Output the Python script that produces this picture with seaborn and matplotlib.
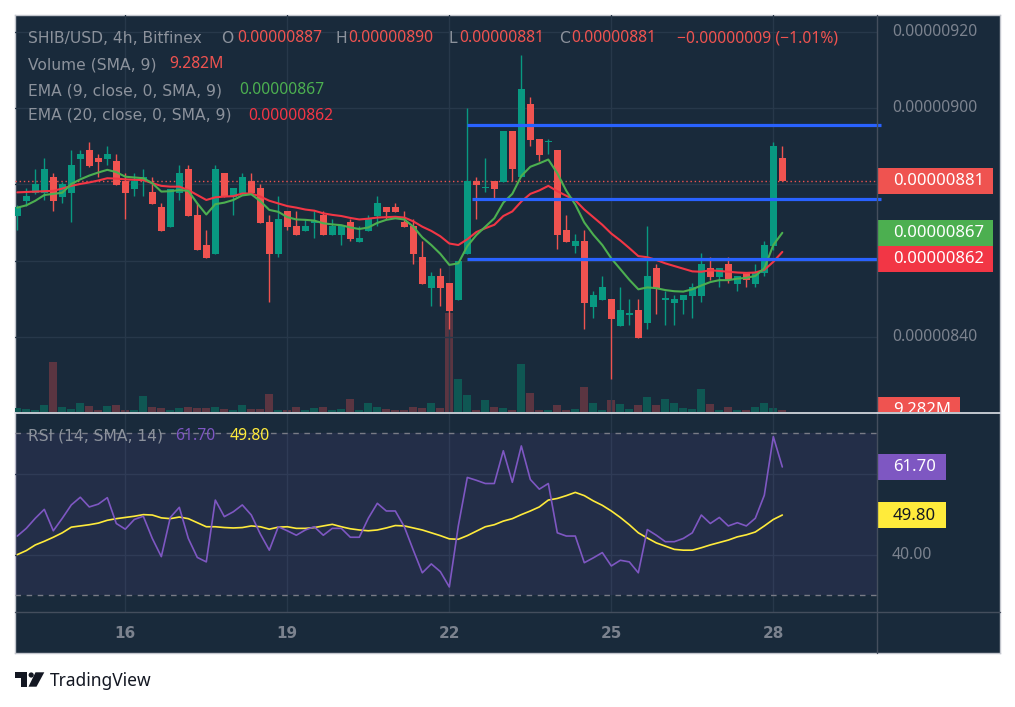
import numpy as np
import pandas as pd
import matplotlib
matplotlib.use("Agg")
import matplotlib.pyplot as plt
import seaborn as sns
from matplotlib.patches import Rectangle, Circle, Polygon

# ---------------- data (prices in units of 1e-8 USD, 4h candles) ----------------
first_day = 14              # first candle = day 14, 00:00
candles_per_day = 6
tick_days = [16, 19, 22, 25, 28]
tick_labels = ["16", "19", "22", "25", "28"]

open_ = [871.8, 875.7, 877.8, 877.8, 881.9, 876.8, 877.8, 886.7, 889.0, 886.9,
         886.7, 886.1, 880.9, 878.9, 880.9, 878.0, 874.1, 868.9, 877.8, 884.0,
         872.0, 864.1, 861.8, 883.0, 876.8, 877.8, 880.9, 879.0, 870.1, 861.8,
         873.0, 869.1, 867.9, 870.0, 872.0, 866.8, 866.8, 870.1, 865.0, 867.9,
         871.8, 874.1, 874.1, 870.1, 869.1, 861.0, 852.9, 856.0, 854.2, 849.8,
         861.8, 880.9, 879.0, 880.9, 880.7, 894.0, 881.8, 901.1, 891.9, 891.0,
         889.0, 868.0, 863.8, 865.2, 847.9, 849.8, 850.0, 842.9, 845.9, 847.0,
         843.8, 858.1, 849.8, 849.0, 849.8, 850.8, 850.8, 858.1, 855.8, 859.1,
         854.0, 857.0, 854.0, 856.9, 863.9, 887.0]
high = [874.5, 879.0, 884.0, 886.9, 883.0, 880.7, 889.0, 889.0, 891.1, 888.0,
        890.0, 888.0, 882.9, 882.9, 883.9, 881.9, 875.1, 878.9, 885.1, 885.1,
        875.1, 868.0, 885.1, 883.0, 879.0, 883.0, 883.0, 880.1, 872.0, 877.0,
        873.0, 873.0, 870.9, 873.0, 873.0, 870.9, 869.1, 870.9, 869.1, 872.0,
        877.0, 874.1, 875.1, 873.0, 870.9, 865.2, 857.0, 858.1, 854.2, 859.9,
        899.9, 881.9, 886.8, 880.9, 894.0, 894.0, 913.9, 902.9, 891.9, 891.8,
        889.0, 872.0, 867.0, 868.0, 852.1, 856.0, 850.0, 853.1, 850.0, 850.0,
        869.1, 859.1, 852.1, 851.0, 851.0, 854.1, 862.0, 861.0, 858.1, 861.0,
        856.0, 857.0, 859.1, 865.2, 891.1, 890.0]
low = [868.0, 874.3, 877.5, 875.9, 873.1, 875.2, 870.2, 882.0, 884.6, 882.0,
       885.1, 879.7, 871.0, 877.0, 877.0, 874.9, 867.9, 868.9, 875.9, 871.8,
       862.9, 860.8, 861.8, 876.8, 872.0, 877.2, 877.8, 870.0, 849.3, 861.0,
       868.0, 866.8, 867.9, 866.0, 866.8, 866.8, 864.2, 865.2, 865.0, 867.9,
       869.1, 870.9, 872.8, 868.9, 859.2, 854.0, 848.2, 848.2, 842.2, 849.8,
       861.8, 871.0, 878.1, 876.0, 880.7, 880.9, 881.8, 890.1, 886.1, 888.0,
       863.1, 864.9, 862.1, 842.2, 845.0, 849.8, 829.1, 842.9, 843.1, 839.8,
       842.2, 846.1, 843.2, 843.2, 846.1, 845.1, 849.3, 855.0, 853.1, 854.2,
       852.1, 853.1, 853.1, 856.0, 862.8, 881.0]
close = [874.1, 877.0, 880.0, 884.0, 875.7, 880.0, 885.1, 888.0, 884.9, 885.9,
         888.0, 879.9, 877.8, 880.9, 881.9, 874.9, 867.9, 878.9, 883.0, 871.8,
         862.9, 860.8, 884.0, 876.8, 879.0, 881.9, 877.8, 870.0, 861.8, 870.9,
         868.9, 866.8, 869.1, 870.1, 866.8, 869.1, 869.1, 865.8, 865.9, 870.9,
         875.1, 872.8, 872.8, 868.9, 861.8, 854.0, 856.0, 852.9, 846.9, 859.9,
         880.9, 879.8, 879.1, 878.8, 894.0, 883.9, 905.0, 891.6, 887.7, 891.2,
         866.8, 864.9, 865.2, 848.9, 851.0, 853.1, 844.8, 847.0, 846.1, 839.8,
         856.0, 852.9, 850.0, 850.0, 851.0, 853.1, 859.1, 855.8, 858.1, 854.9,
         856.0, 854.9, 857.0, 864.1, 890.0, 881.0]
volume_m = [18.6, 13.9, 9.3, 32.5, 232.1, 23.2, 13.9, 41.8, 27.8, 9.3,
            27.8, 32.5, 9.3, 9.3, 74.3, 23.2, 18.6, 9.3, 18.6, 23.2,
            18.6, 18.6, 23.2, 13.9, 9.3, 32.5, 13.9, 13.9, 83.5, 9.3,
            9.3, 23.2, 9.3, 18.6, 23.2, 9.3, 13.9, 60.3, 9.3, 41.8,
            23.2, 13.9, 9.3, 9.3, 23.2, 18.6, 41.8, 18.6, 459.5, 153.2,
            78.9, 9.3, 55.7, 23.2, 18.6, 9.3, 222.8, 88.2, 9.3, 9.3,
            32.5, 9.3, 13.9, 116.0, 41.8, 9.3, 55.7, 37.1, 13.9, 32.5,
            69.6, 32.5, 60.3, 41.8, 18.6, 13.9, 106.7, 37.1, 9.3, 23.2,
            9.3, 9.3, 23.2, 41.8, 18.6, 9.282]
ema9 = [873.9, 874.5, 875.7, 877.2, 877.5, 877.8, 880.1, 881.3, 882.3, 883.1,
        883.8, 883.2, 882.0, 881.8, 881.6, 880.3, 878.1, 878.2, 878.5, 878.3,
        875.0, 872.1, 874.8, 875.2, 875.9, 877.1, 877.4, 875.6, 873.3, 872.8,
        871.4, 870.8, 870.7, 870.5, 869.8, 869.5, 869.3, 868.7, 868.3, 868.7,
        869.9, 870.7, 871.1, 870.8, 868.9, 866.1, 864.1, 861.8, 858.9, 859.3,
        863.8, 866.7, 868.9, 871.1, 875.2, 877.5, 882.2, 884.6, 885.5, 886.5,
        882.9, 878.3, 874.7, 870.0, 866.8, 864.1, 860.6, 857.8, 855.0, 852.5,
        853.0, 852.8, 852.3, 852.0, 851.9, 852.5, 853.5, 854.4, 854.9, 854.9,
        855.3, 855.5, 856.0, 858.0, 864.1, 867.3]
ema20 = [877.9, 878.0, 878.1, 878.2, 878.3, 878.9, 879.6, 880.1, 880.5, 881.0,
         881.6, 881.5, 881.3, 881.2, 881.1, 880.3, 879.6, 879.4, 879.4, 878.5,
         877.2, 875.9, 876.6, 876.8, 876.9, 877.6, 877.6, 876.8, 875.7, 875.0,
         874.3, 873.9, 873.4, 873.1, 872.4, 872.0, 871.7, 871.2, 870.8, 871.0,
         871.3, 871.4, 871.5, 871.3, 870.3, 868.9, 867.8, 866.4, 864.5, 864.1,
         865.6, 867.5, 868.5, 869.4, 871.7, 872.9, 875.5, 877.5, 878.4, 879.6,
         878.2, 877.0, 875.8, 873.4, 871.4, 869.4, 867.1, 865.3, 863.3, 861.2,
         860.9, 860.2, 859.3, 858.6, 857.9, 857.2, 857.1, 857.5, 857.3, 857.1,
         856.9, 856.8, 856.9, 857.6, 859.7, 862.3]
rsi = [44.6, 46.5, 49.0, 51.2, 45.9, 49.0, 52.3, 54.2, 51.8, 52.5,
       54.1, 47.7, 46.3, 48.7, 49.5, 44.0, 39.5, 49.2, 51.7, 44.0,
       39.3, 38.2, 53.5, 49.4, 50.6, 52.3, 49.8, 45.1, 41.1, 46.9,
       45.9, 44.8, 46.1, 46.9, 44.8, 46.5, 46.5, 44.3, 44.3, 49.0,
       52.7, 50.8, 50.8, 46.9, 41.1, 35.5, 37.7, 35.8, 32.0, 47.1,
       59.1, 58.4, 57.6, 57.6, 65.7, 57.9, 66.9, 58.6, 56.2, 57.6,
       45.4, 44.6, 44.6, 38.0, 39.2, 40.5, 37.2, 38.6, 38.2, 35.5,
       46.2, 44.8, 43.2, 43.2, 44.0, 45.4, 49.8, 47.7, 49.2, 47.1,
       47.9, 47.1, 49.0, 54.7, 69.2, 61.7]
rsi_sma = [40.0, 41.0, 42.4, 43.3, 44.3, 45.4, 46.8, 47.1, 47.4, 47.8,
           48.5, 48.9, 49.2, 49.5, 49.9, 49.8, 49.1, 48.9, 49.3, 48.9,
           47.9, 46.9, 46.9, 46.7, 46.6, 46.7, 47.1, 46.9, 46.3, 46.8,
           46.9, 46.5, 46.5, 46.7, 47.1, 47.5, 46.9, 46.4, 46.1, 45.9,
           46.1, 46.6, 47.2, 47.1, 46.6, 46.1, 45.4, 44.7, 43.9, 43.8,
           44.7, 45.8, 46.9, 47.4, 48.3, 48.9, 49.9, 50.8, 51.8, 53.5,
           53.9, 54.6, 55.4, 54.6, 53.3, 52.2, 50.8, 49.2, 47.4, 45.4,
           44.1, 42.9, 42.1, 41.3, 41.1, 41.1, 41.7, 42.4, 43.0, 43.6,
           44.4, 44.9, 45.6, 47.1, 48.7, 49.8]
level_prices = [895.5, 876.1, 860.4]
level_start = [50.0, 50.5, 50.0]
price_grid = [840, 860, 880, 900, 920]
rsi_grid = [40, 60]

# ---------------- style ----------------
BG = "#192a3b"
GRID = "#27384a"
UP = "#089981"
DOWN = "#ef5350"
VUP = "#0f5753"
VDOWN = "#5b3541"
EMA9_C = "#4caf50"
EMA20_C = "#f23645"
BLUE = "#2962ff"
RSI_C = "#7e57c2"
SMA_C = "#ffeb3b"
AXIS_TXT = "#7b828e"
HDR = "#8c929c"
SEP = "#444e5d"

sns.set_theme(style="dark")
plt.rcParams["font.family"] = ["Noto Sans", "DejaVu Sans"]

W, H = 1015, 707
fig = plt.figure(figsize=(W / 100, H / 100), dpi=100)
fig.patch.set_facecolor("white")


def rect(x0, y0, x1, y1):
    return [x0 / W, 1 - y1 / H, (x1 - x0) / W, (y1 - y0) / H]


# background frame
bg = fig.add_axes(rect(15, 15, 1000, 653), zorder=0)
bg.set_facecolor(BG)
bg.set_xticks([]); bg.set_yticks([])
for s in bg.spines.values():
    s.set_color("#c3c6cd"); s.set_linewidth(1)

n = len(close)
idx = np.arange(n)
o = np.array(open_); c = np.array(close); hi = np.array(high); lo = np.array(low)
up = c >= o
XL = (-0.256, 95.52)
day_idx = [(d - first_day) * candles_per_day for d in tick_days]

# volume axes (behind candles)
axv = fig.add_axes(rect(15, 15, 877, 412), zorder=1)
axv.set_facecolor("none")
axv.bar(idx, volume_m, width=0.88, color=np.where(up, VUP, VDOWN), linewidth=0)
axv.set_xlim(*XL); axv.set_ylim(0, 1842)
axv.axis("off")

# price axes
ax = fig.add_axes(rect(15, 15, 877, 412), zorder=2)
ax.set_facecolor("none")
ax.set_xlim(*XL); ax.set_ylim(820.36, 924.36)
ax.set_yticks(price_grid); ax.set_xticks(day_idx)
ax.tick_params(length=0, labelleft=False, labelbottom=False)
ax.grid(True, color=GRID, lw=1)
for s in ax.spines.values():
    s.set_visible(False)

cols = np.where(up, UP, DOWN)
ax.vlines(idx, lo, hi, colors=cols, lw=1, zorder=3)
body_lo = np.minimum(o, c)
body_h = np.maximum(np.abs(c - o), 0.3)
ax.bar(idx, body_h, bottom=body_lo, width=0.76, color=cols, linewidth=0, zorder=4)

df = pd.DataFrame({"i": idx, "ema9": ema9, "ema20": ema20, "rsi": rsi, "sma": rsi_sma})
sns.lineplot(data=df, x="i", y="ema20", ax=ax, color=EMA20_C, lw=1.5, zorder=5)
sns.lineplot(data=df, x="i", y="ema9", ax=ax, color=EMA9_C, lw=1.5, zorder=5)
ax.set_xlabel(""); ax.set_ylabel("")

for lp, ls in zip(level_prices, level_start):
    ax.hlines(lp, ls, 96, color=BLUE, lw=2.3, zorder=6, clip_on=False)
ax.axhline(close[-1], color=DOWN, lw=1, ls=(0, (1, 2)), zorder=2)

# RSI axes
ar = fig.add_axes(rect(15, 413, 877, 612), zorder=2)
ar.set_facecolor("none")
ar.set_xlim(*XL); ar.set_ylim(25.8, 75.05)
ar.axhspan(30, 70, color=RSI_C, alpha=0.10, lw=0)
ar.set_yticks(rsi_grid); ar.set_xticks(day_idx)
ar.tick_params(length=0, labelleft=False, labelbottom=False)
ar.grid(True, color=GRID, lw=1)
for s in ar.spines.values():
    s.set_visible(False)
for lvl in (30, 70):
    ar.axhline(lvl, color="#787b86", lw=1, ls=(0, (4, 4)))
sns.lineplot(data=df, x="i", y="sma", ax=ar, color=SMA_C, lw=1.2)
sns.lineplot(data=df, x="i", y="rsi", ax=ar, color=RSI_C, lw=1.2)
ar.set_xlabel(""); ar.set_ylabel("")

# ---------------- overlay (texts, tags, separators) ----------------
ov = fig.add_axes([0, 0, 1, 1], zorder=10)
ov.set_xlim(0, W); ov.set_ylim(H, 0)
ov.axis("off"); ov.patch.set_alpha(0)


def ypx(axis, v):
    return H - axis.transData.transform((0, v))[1]


def xpx(axis, v):
    return axis.transData.transform((v, 0))[0]


ov.plot([877, 877], [15, 653], color=SEP, lw=1)
ov.plot([15, 1000], [612, 612], color=SEP, lw=1)
ov.plot([15, 1000], [412.5, 412.5], color="#dfe2e8", lw=1.2)

fmt = lambda v: f"{v * 1e-8:.8f}"

# header
hy = [38.5, 64.5, 90.5, 115.5]
hdr_font = dict(family=["DejaVu Sans"], fontsize=11.2, va="center", ha="left", color=HDR)
val_font = dict(family=["Noto Sans", "DejaVu Sans"], fontsize=11.3, va="center", ha="left")
ov.text(27.7, hy[0], "SHIB/USD, 4h, Bitfinex", **hdr_font)
prev_close = close[-2]
chg = close[-1] - prev_close
for lab, lx, vx, v in [("O", 221, 237.5, open_[-1]), ("H", 336, 348, high[-1]),
                       ("L", 449, 459, low[-1]), ("C", 559, 571, close[-1])]:
    ov.text(lx, hy[0], lab, **hdr_font)
    ov.text(vx, hy[0], fmt(v), color=DOWN, **val_font)
ov.text(677, hy[0], f"\u2212{fmt(abs(chg))} (\u2212{abs(chg) / prev_close * 100:.2f}%)",
        color=DOWN, **val_font)
ov.text(27.7, hy[1], "Volume (SMA, 9)", **hdr_font)
ov.text(169, hy[1], f"{volume_m[-1]:.3f}M", color=DOWN, **val_font)
ov.text(27.7, hy[2], "EMA (9, close, 0, SMA, 9)", **hdr_font)
ov.text(239, hy[2], fmt(ema9[-1]), color=EMA9_C, **val_font)
ov.text(27.7, hy[3], "EMA (20, close, 0, SMA, 9)", **hdr_font)
ov.text(248, hy[3], fmt(ema20[-1]), color=EMA20_C, **val_font)

ov.text(27.7, 436, "RSI (14, SMA, 14)", **hdr_font)
ov.text(175, 436, f"{rsi[-1]:.2f}", color=RSI_C, **val_font)
ov.text(230, 436, f"{rsi_sma[-1]:.2f}", color=SMA_C, fontweight="bold", **val_font)

# tags on the price scale
tag_font = dict(family=["Noto Sans", "DejaVu Sans"], fontsize=12, fontweight="bold",
                va="center", ha="left")


def tag(y, text, fc, tc, x1=993, clip=None):
    r = Rectangle((877, y - 13), x1 - 877, 26, fc=fc, ec="none")
    ov.add_patch(r)
    t = ov.text(893, y + 0.5, text, color=tc, **tag_font)
    if clip is not None:
        r.set_clip_path(clip)
        t.set_clip_on(True)
        t.set_clip_path(clip)


y881 = ypx(ax, close[-1])
y867 = ypx(ax, ema9[-1])
y862 = max(ypx(ax, ema20[-1]), y867 + 26)
tag(y881, fmt(close[-1]), DOWN, "white")
tag(y867, fmt(ema9[-1]), EMA9_C, "white")
tag(y862, fmt(ema20[-1]), EMA20_C, "white")
clip = Rectangle((877, 15), 123, 397, transform=ov.transData)
tag(ypx(axv, volume_m[-1]), f"{volume_m[-1]:.3f}M", DOWN, "white", x1=960, clip=clip)

tags_y = [y881, y867, y862]
for v in price_grid:
    y = ypx(ax, v)
    if min(abs(y - t) for t in tags_y) > 20 and 20 < y < 400:
        ov.text(892, y, fmt(v), color=AXIS_TXT, fontsize=11.3, va="center", ha="left",
                family=["Noto Sans", "DejaVu Sans"])

y_rsi = ypx(ar, rsi[-1])
y_sma = ypx(ar, rsi_sma[-1])
tag(y_rsi, f"{rsi[-1]:.2f}", RSI_C, "white", x1=946)
r = Rectangle((877, y_sma - 13), 946 - 877, 26, fc=SMA_C, ec="none")
ov.add_patch(r)
ov.text(893, y_sma + 0.5, f"{rsi_sma[-1]:.2f}", color="#131722", fontsize=12,
        va="center", ha="left", family=["Noto Sans", "DejaVu Sans"])
for v in rsi_grid:
    y = ypx(ar, v)
    if min(abs(y - y_rsi), abs(y - y_sma)) > 20:
        ov.text(892, y, f"{v:.2f}", color=AXIS_TXT, fontsize=11.3, va="center", ha="left",
                family=["Noto Sans", "DejaVu Sans"])

# time axis
for d, lab in zip(day_idx, tick_labels):
    ov.text(xpx(ar, d), 633, lab, color="#7b828e", fontsize=11, fontweight="bold",
            ha="center", va="center", family=["DejaVu Sans"])

# TradingView logo
LOGO = "#131722"
ov.add_patch(Rectangle((15, 672.3), 11.7, 5.3, fc=LOGO, ec="none"))
ov.add_patch(Rectangle((21, 672.3), 5.7, 14.4, fc=LOGO, ec="none"))
ov.add_patch(Circle((31.2, 675), 2.6, fc=LOGO, ec="none"))
ov.add_patch(Polygon([(35.5, 672.3), (44.3, 672.3), (36.5, 686.7), (28.5, 686.7)],
                     closed=True, fc=LOGO, ec="none"))
ov.text(50, 681, "TradingView", color=LOGO, fontsize=12.5, va="center", ha="left",
        family=["Noto Sans", "DejaVu Sans"])

fig.savefig("out.png", dpi=100)
